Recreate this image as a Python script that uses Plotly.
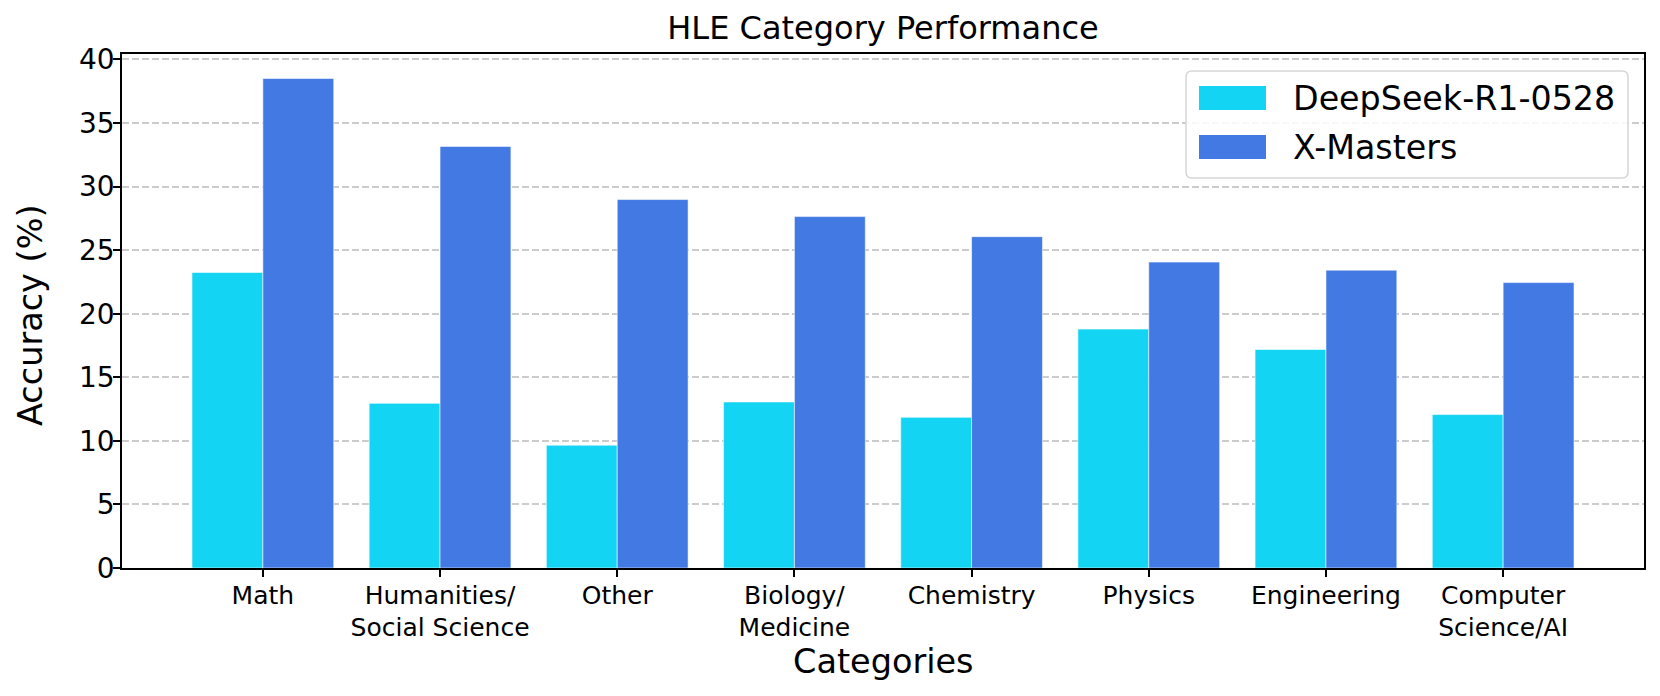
import plotly.graph_objects as go

categories = ["Math", "Humanities/<br>Social Science", "Other", "Biology/<br>Medicine",
              "Chemistry", "Physics", "Engineering", "Computer<br>Science/AI"]
deepseek = [23.24, 12.95, 9.66, 13.06, 11.85, 18.79, 17.19, 12.07]
xmasters = [38.5, 33.16, 28.98, 27.64, 26.06, 24.06, 23.43, 22.45]
series_names = ["DeepSeek-R1-0528", "X-Masters"]
series_colors = ["#14D4F4", "#4279E3"]
yticks = [0, 5, 10, 15, 20, 25, 30, 35, 40]

# the page body adds an 8px offset; compensate so the target frame is 1660x696
OFF = 8
W, H = 1660 - OFF, 696 - OFF
L, R, T, B = 122 - OFF, 16, 54 - OFF, 128
pw, ph = W - L - R, H - T - B
FONT = "DejaVu Sans"

def px2x(px):
    return (px - OFF - L) / pw

def px2y(py):
    return (H - B - (py - OFF)) / ph

fig = go.Figure()
for name, vals, col in zip(series_names, [deepseek, xmasters], series_colors):
    fig.add_trace(go.Bar(
        x=categories, y=vals, name=name,
        marker=dict(color=col, line=dict(color="rgba(255,255,255,0.55)", width=1)),
        showlegend=False,
    ))

# custom legend (box, swatches, labels)
bx0, bx1, by0, by1 = 1186, 1628, 71, 178
r = 6
rx, ry = r / pw, r / ph
x0, x1, y0, y1 = px2x(bx0), px2x(bx1), px2y(by1), px2y(by0)
path = (f"M{x0+rx},{y0} L{x1-rx},{y0} Q{x1},{y0} {x1},{y0+ry} "
        f"L{x1},{y1-ry} Q{x1},{y1} {x1-rx},{y1} L{x0+rx},{y1} Q{x0},{y1} {x0},{y1-ry} "
        f"L{x0},{y0+ry} Q{x0},{y0} {x0+rx},{y0} Z")
shapes = [dict(type="path", path=path, xref="paper", yref="paper",
               fillcolor="rgba(255,255,255,0.85)", line=dict(color="#d6d6d6", width=1.5), layer="above")]
annotations = []
row_centers = [98, 147]
for name, col, cy in zip(series_names, series_colors, row_centers):
    shapes.append(dict(type="rect", xref="paper", yref="paper",
                       x0=px2x(1199), x1=px2x(1266), y0=px2y(cy + 12), y1=px2y(cy - 12),
                       fillcolor=col, line=dict(width=0), layer="above"))
    annotations.append(dict(text=name, xref="paper", yref="paper", x=px2x(1291), y=px2y(cy),
                            xanchor="left", yanchor="middle", showarrow=False,
                            font=dict(size=33.3, family=FONT, color="black")))

annotations.append(dict(text="Categories", xref="paper", yref="paper", x=0.5, y=px2y(661),
                        xanchor="center", yanchor="middle", showarrow=False,
                        font=dict(size=33.5, family=FONT, color="black")))
annotations.append(dict(text="Accuracy (%)", xref="paper", yref="paper", x=px2x(30), y=px2y(315),
                        xanchor="center", yanchor="middle", showarrow=False, textangle=-90,
                        font=dict(size=33.5, family=FONT, color="black")))

fig.update_layout(
    width=W, height=H,
    margin=dict(l=L, r=R, t=T, b=B, pad=0, autoexpand=False),
    paper_bgcolor="white", plot_bgcolor="white",
    barmode="group", bargap=0.2, bargroupgap=0,
    font=dict(family=FONT, color="black"),
    title=dict(text="HLE Category Performance", x=(L + pw / 2) / W, xanchor="center",
               y=1 - (28 - OFF) / H, yanchor="middle", yref="container", automargin=False,
               font=dict(size=32, family=FONT, color="black")),
    shapes=shapes, annotations=annotations,
)
fig.update_xaxes(
    range=[-0.795, 7.795], showline=True, linecolor="black", linewidth=1.6, mirror=True,
    ticks="outside", ticklen=7, tickwidth=1.5, tickcolor="black", automargin=False,
    tickfont=dict(size=25, family=FONT, color="black"), showgrid=False,
    ticklabelstandoff=-3,
)
fig.update_yaxes(
    range=[0, 40.43], tickvals=yticks, ticktext=[str(v) for v in yticks],
    showline=True, linecolor="black", linewidth=1.6, mirror=True, automargin=False,
    ticks="outside", ticklen=7, tickwidth=1.5, tickcolor="black",
    tickfont=dict(size=28, family=FONT, color="black"),
    ticklabelstandoff=-7,
    showgrid=True, gridcolor="#cccccc", gridwidth=1.5, griddash="7px,3px",
    zeroline=False,
)
fig.write_html("out.html")
